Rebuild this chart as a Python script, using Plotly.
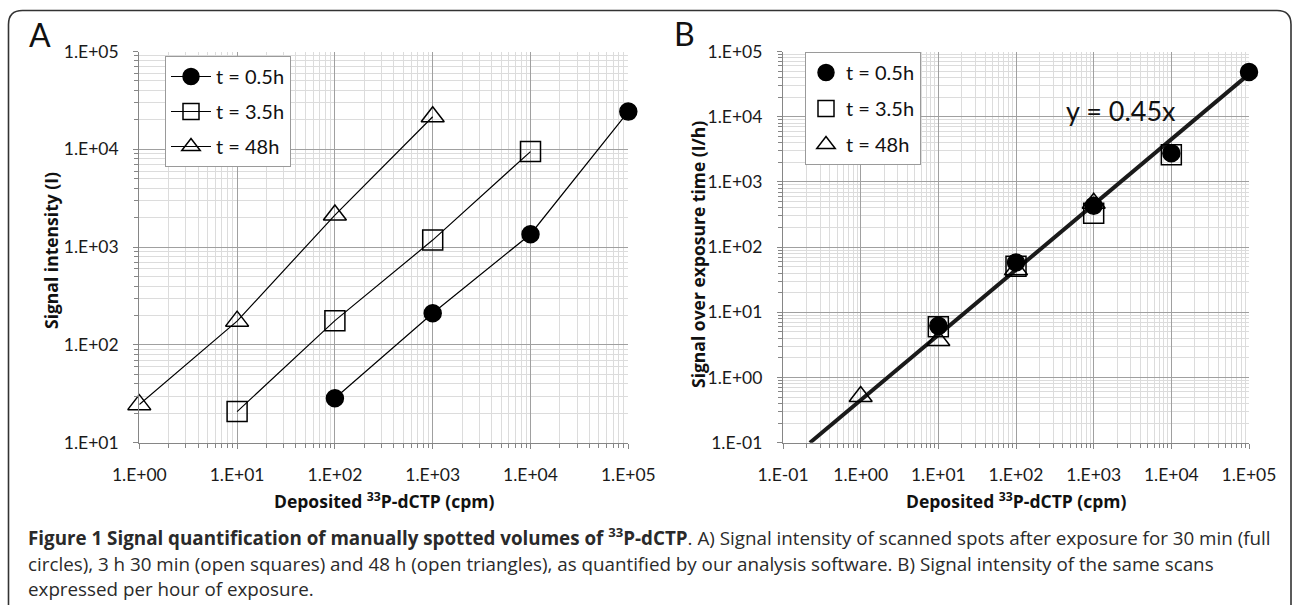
import plotly.graph_objects as go

W, H = 1293, 606

# ---------------- data ----------------
# Panel A: signal intensity (I) vs deposited activity (cpm)
a_x_05 = [1e2, 1e3, 1e4, 1e5]
a_y_05 = [28.5, 211, 1355, 24300]
a_x_35 = [1e1, 1e2, 1e3, 1e4]
a_y_35 = [20.8, 177, 1180, 9480]
a_x_48 = [1, 10, 100, 1000]
a_y_48 = [24.5, 175, 2125, 21500]

# Panel B: signal over exposure time (I/h)
b_x_05 = [10, 100, 1e3, 1e4, 1e5]
b_y_05 = [6.2, 58, 430, 2760, 48600]
b_x_35 = [10, 100, 1e3, 1e4]
b_y_35 = [6.0, 51, 330, 2620]
b_x_48 = [1, 10, 100, 1e3]
b_y_48 = [0.51, 3.7, 45, 470]

# trendline y = 0.45x (end points)
fit_x = [0.222, 1e5]
fit_y = [0.1, 45000]

series_names = ["t = 0.5h", "t = 3.5h", "t = 48h"]

a_ticks = [1, 10, 100, 1e3, 1e4, 1e5]
a_ticktext = ["1.E+00", "1.E+01", "1.E+02", "1.E+03", "1.E+04", "1.E+05"]
a_yticks = [10, 100, 1e3, 1e4, 1e5]
a_yticktext = ["1.E+01", "1.E+02", "1.E+03", "1.E+04", "1.E+05"]
b_ticks = [0.1, 1, 10, 100, 1e3, 1e4, 1e5]
b_ticktext = ["1.E-01", "1.E+00", "1.E+01", "1.E+02", "1.E+03", "1.E+04", "1.E+05"]

# ---------------- styling ----------------
CAL = "Lato, Roboto, sans-serif"
TICKFONT = dict(family=CAL, size=17.5, color="#1a1a1a")
LEGFONT = dict(family=CAL, size=20, color="#111")
TITLEFONT = dict(family="Open Sans, sans-serif", size=17.5, color="#111")
CAPFONT = dict(family="Open Sans, sans-serif", size=18.8, color="#2a2a2a")
MAJOR = "#a0a0a0"
MINOR = "#dcdcdc"
AXC = "#868686"


def minor_vals(lo, hi):
    return [m * 10 ** d for d in range(lo, hi) for m in range(2, 10)]


def axis(dom, tickvals, ticktext, lo, hi, anchor):
    return dict(
        type="log", domain=dom, range=[lo, hi], anchor=anchor, automargin=False,
        tickmode="array", tickvals=tickvals, ticktext=ticktext,
        showline=True, linecolor=AXC, linewidth=1.3,
        ticks="outside", ticklen=5, tickcolor=AXC, tickwidth=1,
        showgrid=True, gridcolor=MAJOR, gridwidth=1.4, zeroline=False,
        tickfont=TICKFONT, ticklabelstandoff=11,
        minor=dict(tickmode="array", tickvals=minor_vals(lo, hi), showgrid=True,
                   gridcolor=MINOR, gridwidth=1, ticks="outside", ticklen=4,
                   tickcolor=AXC),
    )


fig = go.Figure()

# Panel A traces
a_sets = [(a_x_05, a_y_05, "circle", 17), (a_x_35, a_y_35, "square-open", 20),
          (a_x_48, a_y_48, "triangle-up-open", 20)]
for i, (xs, ys, sym, sz) in enumerate(a_sets):
    fig.add_trace(go.Scatter(
        x=xs, y=ys, mode="lines+markers", name=series_names[i],
        line=dict(color="black", width=1.2),
        marker=dict(symbol=sym, size=sz, color="black", line=dict(color="black", width=1.5)),
        xaxis="x", yaxis="y", legend="legend", legendgroup="a%d" % i,
        cliponaxis=False,
    ))

# Panel B: trendline then markers
fig.add_trace(go.Scatter(
    x=fit_x, y=fit_y, mode="lines", line=dict(color="#1a1a1a", width=4),
    showlegend=False, xaxis="x2", yaxis="y2", hoverinfo="skip",
))
b_sets = [(b_x_05, b_y_05, "circle", 17), (b_x_35, b_y_35, "square-open", 20),
          (b_x_48, b_y_48, "triangle-up-open", 20)]
for i, (xs, ys, sym, sz) in enumerate(b_sets):
    fig.add_trace(go.Scatter(
        x=xs, y=ys, mode="markers", name=series_names[i],
        marker=dict(symbol=sym, size=sz, color="black", line=dict(color="black", width=1.5)),
        xaxis="x2", yaxis="y2", legend="legend2", legendgroup="b%d" % i,
        cliponaxis=False,
    ))


def px(x):
    return x / W


def py(y):
    return 1 - y / H


xa_dom = [px(139.3), px(628.3)]
xb_dom = [px(783), px(1249)]
y_dom = [py(442.7), py(51.5)]

fig.update_layout(
    width=W, height=H,
    margin=dict(l=0, r=0, t=0, b=0, pad=0, autoexpand=False),
    paper_bgcolor="white", plot_bgcolor="white",
    xaxis=axis(xa_dom, a_ticks, a_ticktext, 0, 5, "y"),
    yaxis=axis(y_dom, a_yticks, a_yticktext, 1, 5, "x"),
    xaxis2=axis(xb_dom, b_ticks, b_ticktext, -1, 5, "y2"),
    yaxis2=axis(y_dom, b_ticks, b_ticktext, -1, 5, "x2"),
    legend=dict(x=px(165), y=py(56), xanchor="left", yanchor="top",
                bgcolor="white", bordercolor="#9a9a9a", borderwidth=1,
                font=LEGFONT, tracegroupgap=6, itemwidth=40),
    legend2=dict(x=px(805), y=py(52), xanchor="left", yanchor="top",
                 bgcolor="white", bordercolor="#9a9a9a", borderwidth=1,
                 font=LEGFONT, tracegroupgap=7, itemwidth=30),
    showlegend=True,
)

ann = []
ann.append(dict(text="A", x=px(40), y=py(35), font=dict(family=CAL, size=32, color="#111")))
ann.append(dict(text="B", x=px(684), y=py(33), font=dict(family=CAL, size=32, color="#111")))
ann.append(dict(text="y = 0.45x", x=px(1121), y=py(111),
                font=dict(family=CAL, size=27, color="#111")))
ann.append(dict(text="<b>Signal intensity (I)</b>", x=px(51), y=py(251), textangle=-90, font=TITLEFONT))
ann.append(dict(text="<b>Signal over exposure time (I/h)</b>", x=px(698), y=py(255), textangle=-90, font=TITLEFONT))
ann.append(dict(text="<b>Deposited <sup>33</sup>P-dCTP (cpm)</b>", x=px(384), y=py(500), font=TITLEFONT))
ann.append(dict(text="<b>Deposited <sup>33</sup>P-dCTP (cpm)</b>", x=px(1016), y=py(500), font=TITLEFONT))

cap_lines = [
    "<b>Figure 1 Signal quantification of manually spotted volumes of <sup>33</sup>P-dCTP</b>. "
    "A) Signal intensity of scanned spots after exposure for 30 min (full",
    "circles), 3 h 30 min (open squares) and 48 h (open triangles), as quantified by our "
    "analysis software. B) Signal intensity of the same scans",
    "expressed per hour of exposure.",
]
for k, (line, yy) in enumerate(zip(cap_lines, [537, 564, 589])):
    ann.append(dict(text=line, x=px(26), y=py(yy), xanchor="left", font=CAPFONT))

for a in ann:
    a.setdefault("xref", "paper")
    a.setdefault("yref", "paper")
    a.setdefault("showarrow", False)
    a.setdefault("yanchor", "middle")
    a.setdefault("xanchor", "center")
fig.update_layout(annotations=ann)

# rounded outer frame (kept inside the page)
r = 14
x0, y0, x1, y1 = 8.5, 10.5, 1291.0, 605
path = (f"M {px(x0)},{py(y1)} L {px(x0)},{py(y0 + r)} Q {px(x0)},{py(y0)} {px(x0 + r)},{py(y0)} "
        f"L {px(x1 - r)},{py(y0)} Q {px(x1)},{py(y0)} {px(x1)},{py(y0 + r)} L {px(x1)},{py(y1)}")
fig.add_shape(type="path", path=path, xref="paper", yref="paper",
              line=dict(color="#333", width=1.6), layer="above")

fig.write_html("out.html")
